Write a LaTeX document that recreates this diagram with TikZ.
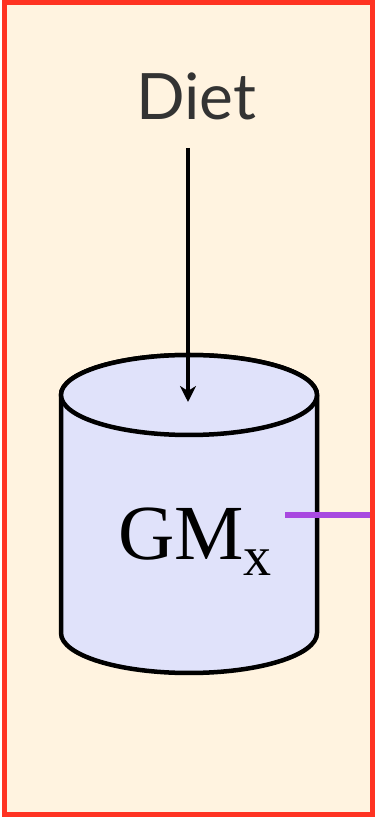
\documentclass[tikz,border=0pt]{standalone}
\usepackage{fontspec}
\setmainfont{Liberation Serif}
\newfontfamily\dietfont{Lato}
\usetikzlibrary{arrows.meta}
\definecolor{cream}{HTML}{FFF3E0}
\definecolor{frame}{HTML}{FF3322}
\definecolor{cyl}{HTML}{E0E2FA}
\definecolor{purp}{HTML}{A848E0}
\definecolor{dtext}{HTML}{333333}
\tikzset{
  framebox/.style={draw=frame, line width=5pt},
  cylbody/.style={draw=black, line width=4.5pt, fill=cyl},
  feed/.style={line width=3.5pt, -{Stealth[length=16pt,width=16pt,inset=5pt]}},
  link/.style={draw=purp, line width=6pt},
}
\begin{document}
\begin{tikzpicture}[x=1pt,y=1pt]
\useasboundingbox (0,0) rectangle (375,817);
\fill[cream] (4.5,2.5) rectangle (372.5,814.5);
% cylinder
\draw[cylbody] (61,422) -- (61,184) arc[start angle=180,end angle=360,x radius=128,y radius=40] -- (317,422) arc[start angle=0,end angle=180,x radius=128,y radius=40] -- cycle;
\draw[cylbody] (189,422) ellipse[x radius=128,y radius=40];
\node[anchor=base west, inner sep=0pt] (gm) at (118,257) {\fontsize{78}{78}\selectfont GM\raisebox{-16pt}{\fontsize{56}{56}\selectfont x}};
% diet
\node[anchor=base, inner sep=0pt, text=dtext] (diet) at (196,697) {\dietfont\fontsize{64}{64}\selectfont Diet};
\coordinate (dtop) at (188,669);
\coordinate (cyltop) at (188,415);
\draw[feed] (dtop) -- (cyltop);
\coordinate (ls) at (285,302);
\coordinate (le) at (372,302);
\draw[link] (ls) -- (le);
\draw[framebox] (4.5,2.5) rectangle (372.5,814.5);
\end{tikzpicture}
\end{document}
